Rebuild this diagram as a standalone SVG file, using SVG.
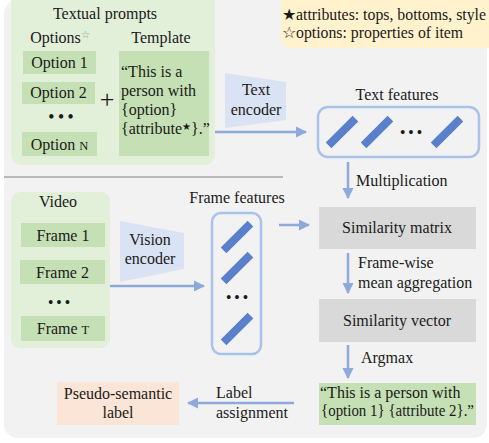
<svg xmlns="http://www.w3.org/2000/svg" width="489" height="443" viewBox="0 0 489 443" font-family="'Liberation Serif', 'DejaVu Serif', serif">
<defs>
<style>
text{font-family:'Liberation Serif','DejaVu Serif',serif;font-size:16px;fill:#1a1a1a}
.c{text-anchor:middle}
.lg{fill:#e2efd9}
.dg{fill:#c5e0b4}
.enc{fill:#dae3f3}
.gray{fill:#d9d9d9}
.fb{fill:none;stroke:#a9c2ea;stroke-width:2.5}
.bar{fill:#5a80cb}
.ar{stroke:#8eaadb;stroke-width:2.5;fill:none;marker-end:url(#ah)}
</style>
<marker id="ah" viewBox="0 0 10 10" refX="9" refY="5" markerWidth="4.5" markerHeight="4.5" orient="auto" markerUnits="strokeWidth">
<path d="M0,0 L10,5 L0,10 Z" fill="#8eaadb"/>
</marker>
<rect id="slash" x="-4" y="-19" width="8" height="38" transform="rotate(45)"/>
</defs>
<rect x="4" y="0" width="483" height="438" rx="14" fill="#f2f2f2"/>
<line x1="4" y1="177" x2="283" y2="177" stroke="#a6a6a6" stroke-width="1.5"/>

<g id="legend">
<rect x="281" y="-10" width="215" height="58" rx="9" fill="#fff2cc"/>
<text x="282" y="20" style="font-size:15.8px">★attributes: tops, bottoms, style</text>
<text x="282" y="38" style="font-size:15.8px">☆options: properties of item</text>
</g>

<g id="textual-prompts">
<rect class="lg" x="11" y="-10" width="204" height="175" rx="11"/>
<text class="c" x="105" y="19">Textual  prompts</text>
<text class="c" x="60" y="43">Options<tspan style="font-size:10px;fill:#888" dy="-5">☆</tspan></text>
<text class="c" x="161" y="43">Template</text>
<rect class="dg" x="23" y="51" width="73" height="23"/>
<text class="c" x="59.5" y="68">Option 1</text>
<rect class="dg" x="22" y="82" width="73" height="22"/>
<text class="c" x="58.5" y="98">Option 2</text>
<text class="c" x="61" y="122" style="font-size:16px;font-weight:bold">• • •</text>
<rect class="dg" x="22" y="132" width="75" height="24"/>
<text class="c" x="59.5" y="150">Option <tspan style="font-size:12.5px">N</tspan></text>
<text class="c" x="107" y="108" style="font-size:26px">+</text>
<rect class="dg" x="119" y="51" width="90" height="105"/>
<text x="121" y="77">“This is a</text>
<text x="121" y="96">person with</text>
<text x="121" y="115">{option}</text>
<text x="121" y="134">{attribute<tspan style="font-size:10px" dy="-4">★</tspan><tspan dy="4">}.”</tspan></text>
</g>

<g id="text-encoder">
<path class="enc" d="M225,73 L286,82 L286,120 L225,128 Z"/>
<text class="c" x="256" y="95">Text</text>
<text class="c" x="256" y="115">encoder</text>
</g>

<g id="text-features">
<text class="c" x="397" y="100">Text features</text>
<rect class="fb" x="318" y="107" width="161" height="50" rx="10"/>
<use href="#slash" class="bar" x="342" y="132"/>
<use href="#slash" class="bar" x="377" y="132"/>
<use href="#slash" class="bar" x="447" y="132"/>
<text class="c" x="411" y="137" style="font-size:14px;font-weight:bold">• • •</text>
</g>

<g id="video">
<rect class="lg" x="11" y="192" width="99" height="156" rx="9"/>
<text class="c" x="58" y="207">Video</text>
<rect class="dg" x="21" y="223" width="84" height="24"/>
<text class="c" x="63" y="241">Frame 1</text>
<rect class="dg" x="20" y="260" width="85" height="24"/>
<text class="c" x="62.5" y="278">Frame 2</text>
<text class="c" x="59" y="307" style="font-size:14px;font-weight:bold">• • •</text>
<rect class="dg" x="21" y="316" width="84" height="25"/>
<text class="c" x="63" y="334">Frame <tspan style="font-size:12.5px">T</tspan></text>
</g>

<g id="vision-encoder">
<path class="enc" d="M120,221 L184,233 L184,269 L120,282 Z"/>
<text class="c" x="150" y="245">Vision</text>
<text class="c" x="150" y="264">encoder</text>
</g>

<g id="frame-features">
<text class="c" x="237" y="203">Frame features</text>
<rect class="fb" x="212" y="213" width="49" height="141" rx="9"/>
<use href="#slash" class="bar" x="237" y="237"/>
<use href="#slash" class="bar" x="237" y="268"/>
<use href="#slash" class="bar" x="237" y="329"/>
<text class="c" x="237" y="302" style="font-size:14px;font-weight:bold">• • •</text>
</g>

<g id="similarity-matrix">
<rect class="gray" x="319" y="207" width="157" height="42"/>
<text class="c" x="397" y="233">Similarity matrix</text>
</g>

<g id="similarity-vector">
<rect class="gray" x="319" y="299" width="157" height="43"/>
<text class="c" x="397" y="326">Similarity vector</text>
</g>

<g id="result">
<rect class="dg" x="319" y="383" width="157" height="42"/>
<text x="320" y="398">“This is a person with</text>
<text x="321" y="416" textLength="153" lengthAdjust="spacingAndGlyphs">{option 1} {attribute 2}.”</text>
</g>

<g id="pseudo-label">
<rect x="57" y="382" width="122" height="43" fill="#fbe5d6"/>
<text class="c" x="118" y="399">Pseudo-semantic</text>
<text class="c" x="118" y="418">label</text>
</g>

<g id="connectors">
<line class="ar" x1="215" y1="132" x2="306" y2="132"/>
<line class="ar" x1="348" y1="162" x2="348" y2="198"/>
<text x="356" y="186">Multiplication</text>
<line class="ar" x1="110" y1="286" x2="204" y2="286"/>
<line class="ar" x1="279" y1="225" x2="309" y2="225"/>
<line class="ar" x1="348" y1="253" x2="348" y2="293"/>
<text x="358" y="268">Frame-wise</text>
<text x="358" y="288">mean aggregation</text>
<line class="ar" x1="348" y1="345" x2="348" y2="378"/>
<text x="361" y="363">Argmax</text>
<line class="ar" x1="294" y1="403" x2="188" y2="403"/>
<text x="216" y="398">Label</text>
<text x="216" y="418">assignment</text>
</g>
</svg>
